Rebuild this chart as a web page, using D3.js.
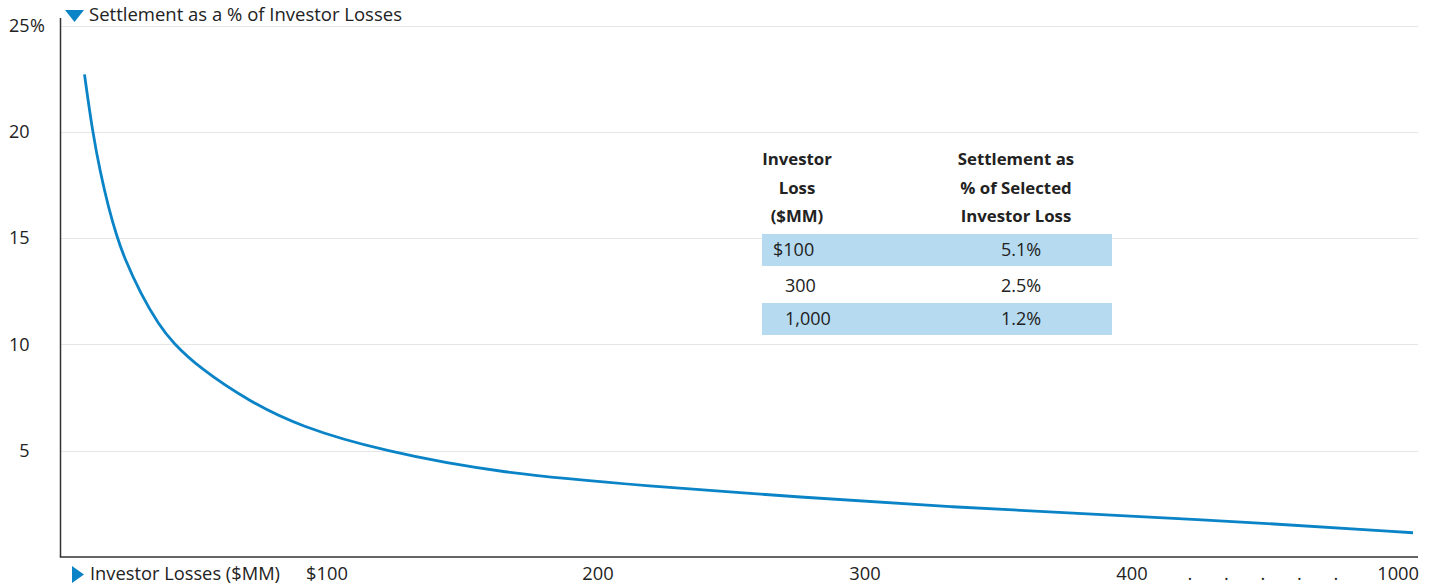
<!DOCTYPE html>
<html>
<head>
<meta charset="utf-8">
<script src="https://cdn.jsdelivr.net/npm/d3@7"></script>
<style>
  html, body { margin: 0; padding: 0; background: #fff; }
  svg { display: block; font-family: "Open Sans", "Noto Sans", sans-serif; }
</style>
</head>
<body>
<svg id="chart" width="1431" height="586"></svg>
<script>
// ---- data ----
const lossValues = [9, 12, 15, 18, 21, 24, 30, 37, 42, 52, 71, 90, 120, 164, 219, 276, 332, 388, 673, 1000];
const settlementPct = [22.7, 20.0, 18.05, 16.45, 15.13, 14.05, 12.4, 10.9, 10.1, 8.9, 7.3, 6.13, 5.0, 3.93, 3.34, 2.81, 2.35, 2.0, 1.61, 1.14];

const yTicks = [5, 10, 15, 20, 25];
const xTicks = [100, 200, 300, 400, 1000];
const xTickLabels = ["$100", "200", "300", "400", "1000"];
const gapDots = [".", ".", ".", ".", "."];

const tableHeadLoss = ["Investor", "Loss", "($MM)"];
const tableHeadPct = ["Settlement as", "% of Selected", "Investor Loss"];
const tableLoss = ["$100", "300", "1,000"];
const tablePct = ["5.1%", "2.5%", "1.2%"];

const yTitle = "Settlement as a % of Investor Losses";
const xTitle = "Investor Losses ($MM)";

// ---- layout ----
const svg = d3.select("#chart");
const blue = "#0a84c6";
const axisCol = "#333";
const gridCol = "#e6e6e6";
const textCol = "#222";
const plotLeft = 60.5, plotRight = 1418, plotTop = 25.5, plotBottom = 557;

const y = d3.scaleLinear().domain([0, 25]).range([plotBottom, plotTop]);
const x = d3.scaleLinear().domain([0, 100, 200, 300, 400, 1000]).range([plotLeft, 327, 598, 865, 1132, 1413]);

// gridlines
svg.append("g").selectAll("line").data(yTicks).join("line")
  .attr("x1", plotLeft).attr("x2", plotRight)
  .attr("y1", d => Math.round(y(d)) + 0.5).attr("y2", d => Math.round(y(d)) + 0.5)
  .attr("stroke", gridCol).attr("stroke-width", 1);

// y tick labels
const yLab = svg.append("g").attr("font-size", 18).attr("fill", textCol);
yLab.selectAll("text").data(yTicks).join("text")
  .attr("x", 29.5).attr("y", d => y(d)).attr("dy", "0.35em")
  .attr("text-anchor", "end").text(d => d);
yLab.append("text").attr("x", 30).attr("y", y(25)).attr("dy", "0.35em").text("%");

// table
const tbl = svg.append("g");
const rowTop = [234, 270, 303];
const rowH = 32;
tbl.selectAll("rect").data(tableLoss).join("rect")
  .attr("x", 762).attr("width", 350)
  .attr("y", (d, i) => rowTop[i]).attr("height", rowH)
  .attr("fill", (d, i) => i % 2 === 0 ? "#b6daf0" : "none");
tbl.selectAll("text.h1").data(tableHeadLoss).join("text").attr("class", "h1")
  .attr("x", 797).attr("y", (d, i) => 165 + i * 28.5)
  .attr("text-anchor", "middle").attr("font-weight", "bold").attr("font-size", 16.8).attr("fill", textCol)
  .text(d => d);
tbl.selectAll("text.h2").data(tableHeadPct).join("text").attr("class", "h2")
  .attr("x", 1016).attr("y", (d, i) => 165 + i * 28.5)
  .attr("text-anchor", "middle").attr("font-weight", "bold").attr("font-size", 16.8).attr("fill", textCol)
  .text(d => d);
tbl.selectAll("text.c1").data(tableLoss).join("text").attr("class", "c1")
  .attr("x", d => d.startsWith("$") ? 773 : 785).attr("y", (d, i) => rowTop[i] + rowH / 2).attr("dy", "0.35em")
  .attr("font-size", 18).attr("fill", textCol).text(d => d);
tbl.selectAll("text.c2").data(tablePct).join("text").attr("class", "c2")
  .attr("x", 1021).attr("y", (d, i) => rowTop[i] + rowH / 2).attr("dy", "0.35em")
  .attr("text-anchor", "middle").attr("font-size", 18).attr("fill", textCol).text(d => d);

// curve
const line = d3.line().x(d => x(d[0])).y(d => y(d[1])).curve(d3.curveBasis);
svg.append("path")
  .datum(lossValues.map((v, i) => [v, settlementPct[i]]))
  .attr("d", line).attr("fill", "none").attr("stroke", blue).attr("stroke-width", 2.8);

// axes lines
svg.append("line").attr("x1", plotLeft).attr("x2", plotLeft).attr("y1", 18).attr("y2", plotBottom)
  .attr("stroke", axisCol).attr("stroke-width", 1.5);
svg.append("line").attr("x1", plotLeft - 0.75).attr("x2", plotRight).attr("y1", plotBottom).attr("y2", plotBottom)
  .attr("stroke", axisCol).attr("stroke-width", 1.5);

// x tick labels
const xLab = svg.append("g").attr("font-size", 18.3).attr("fill", textCol);
xLab.selectAll("text.t").data(xTicks).join("text").attr("class", "t")
  .attr("x", (d, i) => i === xTicks.length - 1 ? plotRight + 1 : x(d))
  .attr("y", 580)
  .attr("text-anchor", (d, i) => i === xTicks.length - 1 ? "end" : "middle")
  .text((d, i) => xTickLabels[i]);
const x400 = x(400), x1000 = x(1000);
xLab.selectAll("text.dot").data(gapDots).join("text").attr("class", "dot")
  .attr("x", (d, i) => x400 + (x1000 - x400) * (0.206 + i * 0.13))
  .attr("y", 580).attr("text-anchor", "middle").text(d => d);

// titles with triangles
svg.append("path").attr("d", "M65,10 L84,10 L74.5,22 Z").attr("fill", blue);
svg.append("text").attr("x", 89).attr("y", 21).attr("font-size", 18.5).attr("fill", textCol).text(yTitle);
svg.append("path").attr("d", "M72,566 L84,574.5 L72,583 Z").attr("fill", blue);
svg.append("text").attr("x", 90).attr("y", 580).attr("font-size", 18.3).attr("fill", textCol).text(xTitle);
</script>
</body>
</html>
